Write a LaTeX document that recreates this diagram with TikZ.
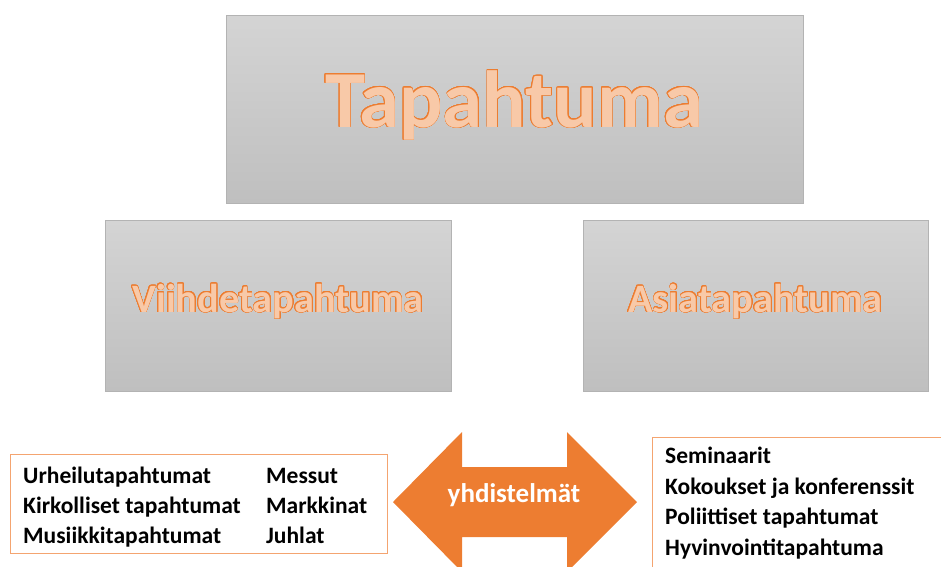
\documentclass[tikz,border=0pt]{standalone}
\usepackage{fontspec}
\setmainfont{Carlito}
\usepackage{xcolor}
\usepackage[copies]{contour}
\usepackage{tikz}
\usetikzlibrary{positioning}

\definecolor{boxtop}{HTML}{D4D4D4}
\definecolor{boxbottom}{HTML}{BFBFBF}
\definecolor{boxline}{HTML}{B3B3B3}
\definecolor{orangefill}{HTML}{F8C9A8}
\definecolor{orangeline}{HTML}{ED7D31}
\definecolor{listline}{HTML}{F4A470}

\contourlength{0.7pt}
\contournumber{24}
\newcommand{\outlined}[1]{\contour{orangeline}{\textcolor{orangefill}{#1}}}

\begin{document}
\begin{tikzpicture}[x=1pt, y=-1pt,
	graybox/.style={rectangle, draw=boxline, top color=boxtop, bottom color=boxbottom, inner sep=0pt, outer sep=0pt},
	listbox/.style={rectangle, draw=listline, line width=1pt, fill=white, inner sep=0pt, outer sep=0pt},
	item/.style={anchor=base west, inner sep=0pt, font=\bfseries\fontsize{23.5}{28}\selectfont}]
			\useasboundingbox (0,0) rectangle (941,566);
			\clip (0,0) rectangle (941,566);
			% Boxes
			\node[graybox, minimum width=577pt, minimum height=188pt] (main) at (514.5,109) {};
			\node[graybox, minimum width=346pt, minimum height=171pt] (viihde) at (278,305.5) {};
			\node[graybox, minimum width=345pt, minimum height=171pt] (asia) at (755.5,305.5) {};
			% Titles
			\node[anchor=base, inner sep=0pt, font=\bfseries\fontsize{81}{90}\selectfont] (maintext) at (514,127) {\outlined{Tapahtuma}};
			\node[anchor=base, inner sep=0pt, font=\bfseries\fontsize{40.3}{48}\selectfont] (viihdetext) at (278,312) {\outlined{Viihdetapahtuma}};
			\node[anchor=base, inner sep=0pt, font=\bfseries\fontsize{40.3}{48}\selectfont] (asiatext) at (755.5,312) {\outlined{Asiatapahtuma}};
			% Lists
			\node[listbox, minimum width=377pt, minimum height=99pt] (leftlist) at (198.5,503.5) {};
			\node[listbox, minimum width=320pt, minimum height=160pt] (rightlist) at (812,517) {};
			\node[item] (urheilu) at (23,483) {Urheilutapahtumat};
			\node[item] (kirkko) at (23,513) {Kirkolliset tapahtumat};
			\node[item] (musiikki) at (23,543) {Musiikkitapahtumat};
			\node[item] (messut) at (266,483) {Messut};
			\node[item] (markkinat) at (266,513) {Markkinat};
			\node[item] (juhlat) at (266,543) {Juhlat};
			\node[item] (seminaarit) at (665,463) {Seminaarit};
			\node[item] (kokoukset) at (665,494) {Kokoukset ja konferenssit};
			\node[item] (politiikka) at (665,524) {Poliittiset tapahtumat};
			\node[item] (hyvinvointi) at (665,555) {Hyvinvointitapahtuma};
			% Double arrow
			\fill[orangeline] (393,502) -- (462,432) -- (462,467) -- (567,467) -- (567,432) -- (637,502)
				-- (567,572) -- (567,537) -- (462,537) -- (462,572) -- cycle;
			\node[anchor=base, inner sep=0pt, text=white, font=\bfseries\fontsize{27}{32}\selectfont] (yhd) at (514,502) {yhdistelmät};
		\end{tikzpicture}
\end{document}
